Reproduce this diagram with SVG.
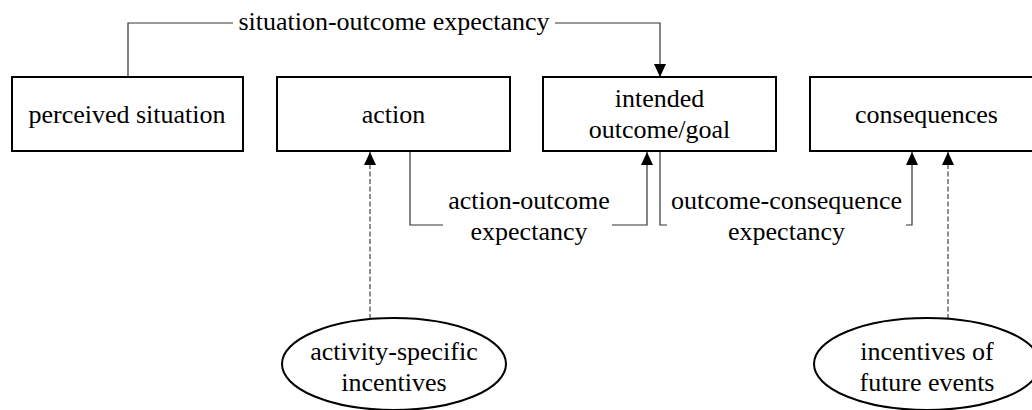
<svg xmlns="http://www.w3.org/2000/svg" width="1032" height="410" viewBox="0 0 1032 410">
  <style>
    .box { fill: #fff; stroke: #000; stroke-width: 2; }
    .oval { fill: #fff; stroke: #000; stroke-width: 2; }
    .lbl { font-family: "Liberation Serif", "Times New Roman", serif; font-size: 26px; fill: #000; text-anchor: middle; }
    .edge { fill: none; stroke: #333; stroke-width: 1.2; }
    .dash { fill: none; stroke: #444; stroke-width: 1.2; stroke-dasharray: 5 2.5; }
  </style>
  <defs>
    <marker id="head" markerUnits="userSpaceOnUse" markerWidth="13" markerHeight="13" refX="13" refY="6.5" orient="auto">
      <path d="M0,0.5 L13,6.5 L0,12.5 z" fill="#000"/>
    </marker>
  </defs>
  <rect width="1032" height="410" fill="#fff"/>

  <!-- connectors -->
  <g id="connectors">
    <!-- situation-outcome expectancy -->
    <path class="edge" d="M128,77 V23 H233"/>
    <path class="edge" d="M555,23 H660 V77" marker-end="url(#head)"/>
    <text class="lbl" x="394" y="30">situation-outcome expectancy</text>

    <!-- action-outcome expectancy -->
    <path class="edge" d="M410,151 V225 H443"/>
    <path class="edge" d="M612,225 H647 V152" marker-end="url(#head)"/>
    <text class="lbl" x="529" y="209">action-outcome</text>
    <text class="lbl" x="529" y="240">expectancy</text>

    <!-- outcome-consequence expectancy -->
    <path class="edge" d="M660,151 V225 H667"/>
    <path class="edge" d="M906,225 H912 V152" marker-end="url(#head)"/>
    <text class="lbl" x="786.5" y="209">outcome-consequence</text>
    <text class="lbl" x="786.5" y="240">expectancy</text>

    <!-- incentives -->
    <path class="dash" d="M370,319 V152" marker-end="url(#head)"/>
    <path class="dash" d="M948,319 V152" marker-end="url(#head)"/>
  </g>

  <g id="perceived-situation">
    <rect class="box" x="12" y="77" width="231" height="74"/>
    <text class="lbl" x="127" y="123">perceived situation</text>
  </g>

  <g id="action">
    <rect class="box" x="277" y="77" width="233" height="74"/>
    <text class="lbl" x="393.5" y="123">action</text>
  </g>

  <g id="intended-outcome">
    <rect class="box" x="543" y="77" width="233" height="74"/>
    <text class="lbl" x="659.5" y="107">intended</text>
    <text class="lbl" x="659.5" y="138">outcome/goal</text>
  </g>

  <g id="consequences">
    <rect class="box" x="810" y="77" width="233" height="74"/>
    <text class="lbl" x="926.5" y="123">consequences</text>
  </g>

  <g id="activity-specific-incentives">
    <ellipse class="oval" cx="394" cy="364" rx="112" ry="46"/>
    <text class="lbl" x="394" y="360">activity-specific</text>
    <text class="lbl" x="394" y="391">incentives</text>
  </g>

  <g id="incentives-of-future-events">
    <ellipse class="oval" cx="927" cy="364" rx="113" ry="46"/>
    <text class="lbl" x="927" y="360">incentives of</text>
    <text class="lbl" x="927" y="391">future events</text>
  </g>
</svg>
